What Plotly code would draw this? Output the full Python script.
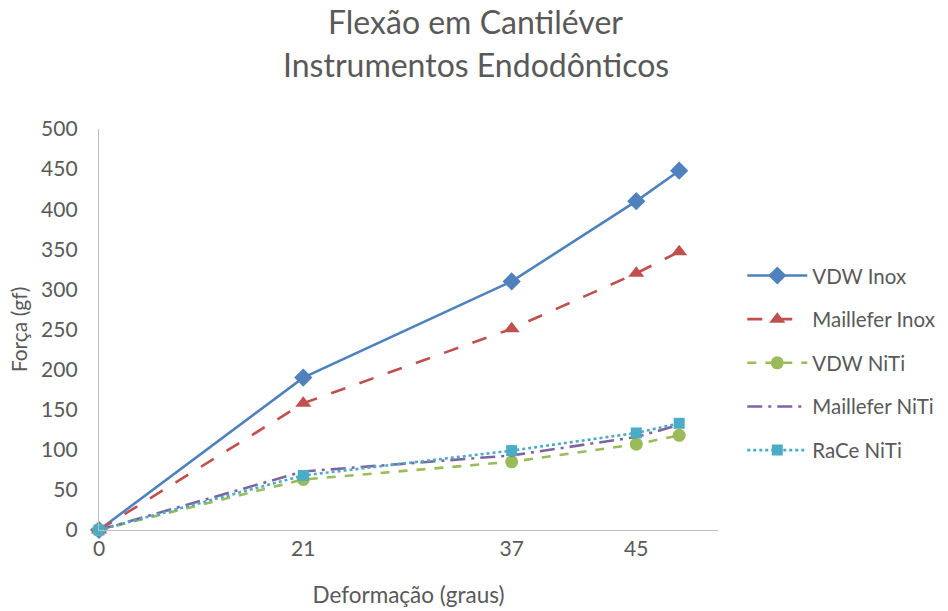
import plotly.graph_objects as go

# Deformation steps: position on the horizontal scale and their labels
deform_pos = [0, 1.0, 2.02, 2.63, 2.84]
tick_labels = ["0", "21", "37", "45"]

# Force (gf) for each instrument
vdw_inox = [0, 190, 310, 410, 448]
maillefer_inox = [0, 158, 251, 320, 347]
vdw_niti = [0, 63, 85, 107, 118]
maillefer_niti = [0, 73, 93, 116, 131]
race_niti = [0, 68, 99, 121, 133]

title_lines = ["Flexão em Cantiléver", "Instrumentos Endodônticos"]

series = [
    ("VDW Inox", vdw_inox, "#4F81BD", "solid", "diamond", 14),
    ("Maillefer Inox", maillefer_inox, "#C0504D", "longdash", "triangle-up", 14),
    ("VDW NiTi", vdw_niti, "#9BBB59", "dash", "circle", 13),
    ("Maillefer NiTi", maillefer_niti, "#8064A2", "longdashdot", None, 0),
    ("RaCe NiTi", race_niti, "#4BACC6", "dot", "square", 11),
]

FONT = "Lato, 'Open Sans', sans-serif"
GREY = "#595959"

fig = go.Figure()
for i, (name, vals, color, dash, symbol, size) in enumerate(series):
    mode = "lines+markers" if symbol else "lines"
    fig.add_trace(go.Scatter(
        x=deform_pos, y=vals, name=name, mode=mode,
        line=dict(color=color, width=2.6, dash=dash),
        marker=dict(symbol=symbol or "circle", size=size, color=color,
                    line=dict(width=0)),
        legendgroup=f"g{i}",
        cliponaxis=False,
    ))

# two-line chart heading
for txt, ypos in zip(title_lines, [1.267, 1.16]):
    fig.add_annotation(
        text=txt, xref="paper", yref="paper", x=0.609, y=ypos,
        xanchor="center", yanchor="middle", showarrow=False,
        font=dict(size=32, color=GREY, family=FONT),
    )

fig.update_layout(
    width=948, height=611,
    paper_bgcolor="white", plot_bgcolor="white",
    margin=dict(l=99, r=230, t=129, b=81, autoexpand=False),
    font=dict(family=FONT, color=GREY, size=21),
    xaxis=dict(
        range=[0, 3.03], tickvals=deform_pos[:4], ticktext=tick_labels,
        showgrid=False, zeroline=False, showline=True,
        linecolor="#BFBFBF", linewidth=1.3, ticks="",
        tickfont=dict(size=21, color=GREY),
        title=dict(text="Deformação (graus)", font=dict(size=22.5, color=GREY),
                   standoff=27),
    ),
    yaxis=dict(
        range=[0, 500], tickvals=list(range(0, 501, 50)),
        showgrid=False, zeroline=False, showline=True,
        linecolor="#BFBFBF", linewidth=1.3, ticks="",
        tickfont=dict(size=21, color=GREY), ticklabelstandoff=16,
        title=dict(text="Força (gf)", font=dict(size=21, color=GREY),
                   standoff=7),
    ),
    legend=dict(
        xref="container", x=0.783, xanchor="left", y=0.416, yanchor="middle",
        font=dict(size=20.5, color=GREY),
        tracegroupgap=14, itemwidth=60,
        bgcolor="rgba(0,0,0,0)",
    ),
)

fig.write_html("out.html")
